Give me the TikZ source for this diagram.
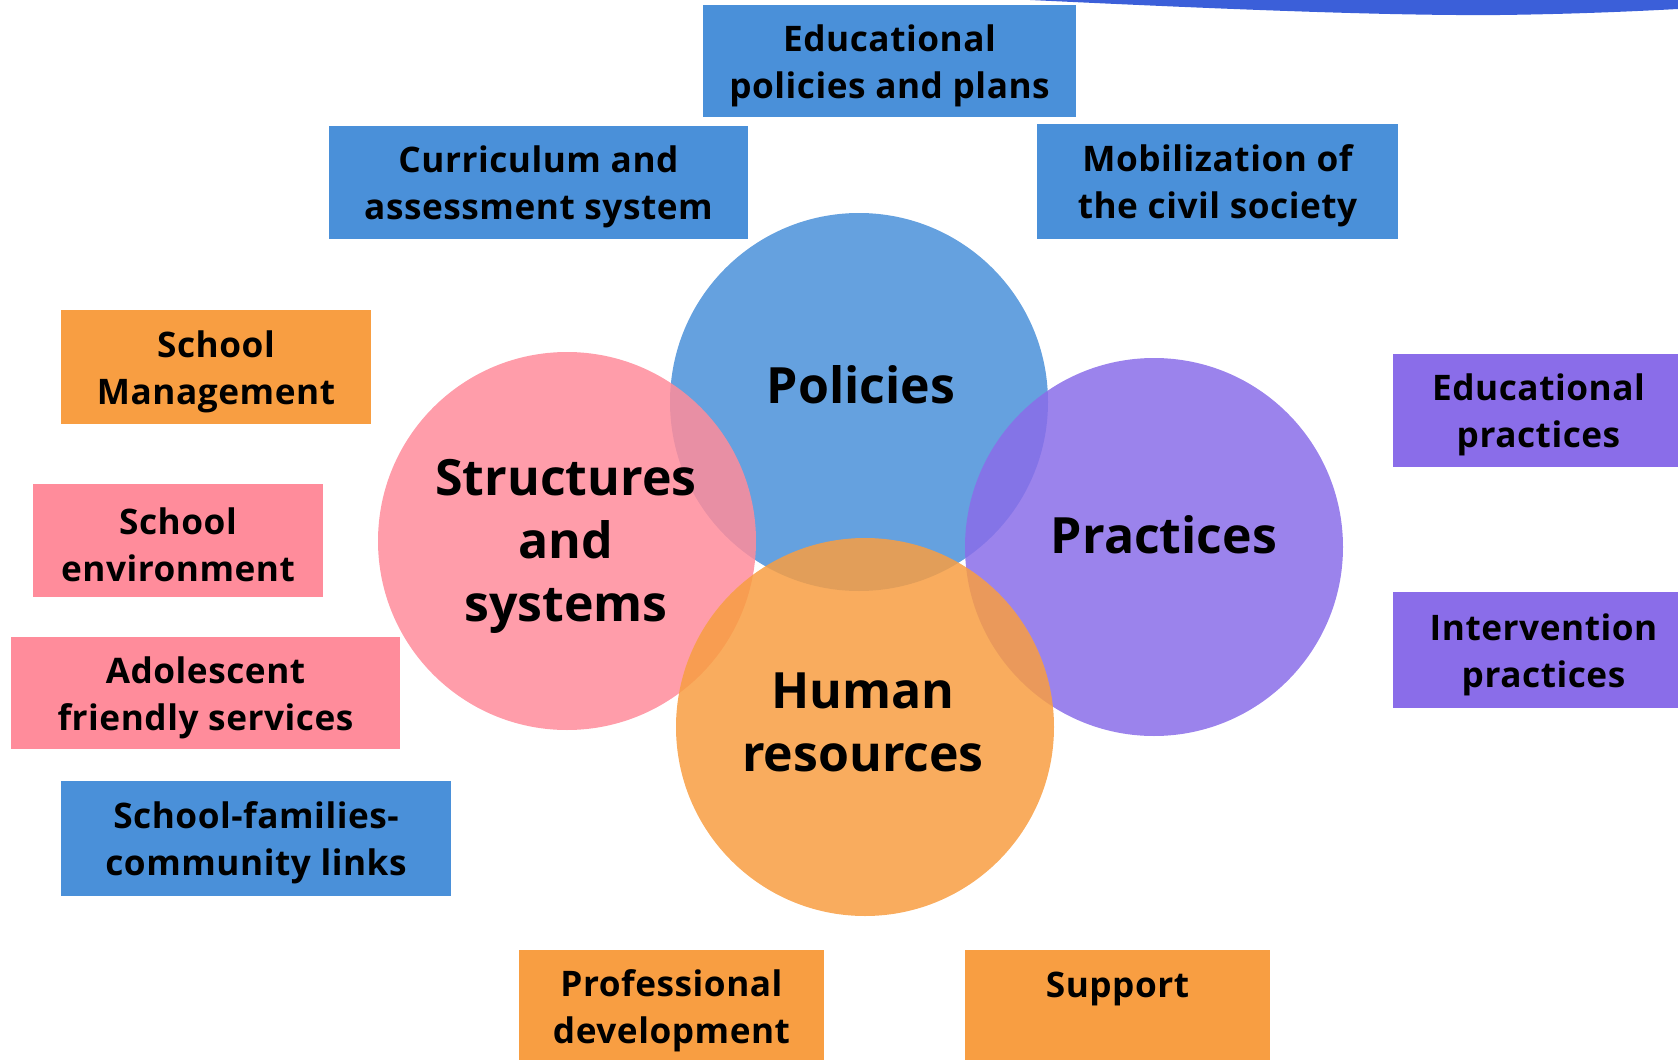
\documentclass[tikz,border=0pt]{standalone}
\usepackage{fontspec}
\setmainfont{Open Sans}
\newfontfamily\boxfont[LetterSpace=1.5]{Open Sans}
\definecolor{cblue}{HTML}{4A90D9}
\definecolor{corange}{HTML}{F89E42}
\definecolor{cpink}{HTML}{FF8C9B}
\definecolor{cpurple}{HTML}{8A6DE9}
\definecolor{cwave}{HTML}{3B5FD9}
\begin{document}
\begin{tikzpicture}[x=0.5pt,y=-0.5pt,
  box/.style={rectangle, inner sep=0pt},
  boxtext/.style={align=center, inner sep=0pt, font=\boxfont\bfseries\fontsize{17.6}{23.5}\selectfont},
  ring/.style={circle, minimum size=189pt, inner sep=0pt, fill opacity=0.85},
  biglabel/.style={align=center, inner sep=0pt, font=\bfseries\fontsize{25}{31.5}\selectfont}]
\useasboundingbox (0,0) rectangle (1678,1060);
% top wave
\fill[cwave] (1030,0) .. controls (1200,8) and (1380,16) .. (1500,15) .. controls (1580,14) and (1640,11) .. (1678,9) -- (1678,0) -- cycle;
% circles
\node[ring, fill=cblue] (cpol) at (859,402) {};
\node[ring, fill=cpink] (cstr) at (567,541) {};
\node[ring, fill=cpurple] (cpra) at (1154,547) {};
\node[ring, fill=corange] (chum) at (865,727) {};
% circle labels
\node[biglabel] (lpol) at (861,385) {Policies};
\node[biglabel] (lstr) at (566,546) {Structures\\and\\systems};
\node[biglabel] (lpra) at (1164,535) {Practices};
\node[biglabel] (lhum) at (863,722) {Human\\resources};
% boxes
\node[box, fill=cblue, minimum width=186.5pt, minimum height=56pt] (b1) at (889.5,61) {};
\node[box, fill=cblue, minimum width=209.5pt, minimum height=56.5pt] (b2) at (538.5,182.5) {};
\node[box, fill=cblue, minimum width=180.5pt, minimum height=57.5pt] (b3) at (1217.5,181.5) {};
\node[box, fill=corange, minimum width=155pt, minimum height=57pt] (b4) at (216,367) {};
\node[box, fill=cpink, minimum width=145pt, minimum height=56.5pt] (b5) at (178,540.5) {};
\node[box, fill=cpink, minimum width=194.5pt, minimum height=56pt] (b6) at (205.5,693) {};
\node[box, fill=cblue, minimum width=195pt, minimum height=57.5pt] (b7) at (256,838.5) {};
\node[box, fill=corange, minimum width=152.5pt, minimum height=55pt] (b8) at (671.5,1005) {};
\node[box, fill=corange, minimum width=152.5pt, minimum height=55pt] (b9) at (1117.5,1005) {};
\node[box, fill=cpurple, minimum width=142.5pt, minimum height=56.5pt] (b10) at (1535.5,410.5) {};
\node[box, fill=cpurple, minimum width=142.5pt, minimum height=58pt] (b11) at (1535.5,650) {};
% box texts
\node[boxtext] (t1) at ([yshift=-2.3pt]b1.center) {Educational\\policies and plans};
\node[boxtext] (t2) at ([yshift=-2.3pt]b2.center) {Curriculum and\\assessment system};
\node[boxtext] (t3) at ([yshift=-2.3pt]b3.center) {Mobilization of\\the civil society};
\node[boxtext] (t4) at ([yshift=-2.3pt]b4.center) {School\\Management};
\node[boxtext] (t5) at ([yshift=-2.3pt]b5.center) {School\\environment};
\node[boxtext] (t6) at ([yshift=-2.3pt]b6.center) {Adolescent\\friendly services};
\node[boxtext] (t7) at ([yshift=-2.3pt]b7.center) {School-families-\\community links};
\node[boxtext] (t8) at ([yshift=-2.8pt]b8.center) {Professional\\development};
\node[boxtext] (t9) at ([yshift=-5pt]b9.center) {Support\\\strut};
\node[boxtext] (t10) at ([xshift=1.5pt,yshift=-2.3pt]b10.center) {Educational\\practices};
\node[boxtext] (t11) at ([xshift=4pt,yshift=-2.3pt]b11.center) {Intervention\\practices};
\end{tikzpicture}
\end{document}
